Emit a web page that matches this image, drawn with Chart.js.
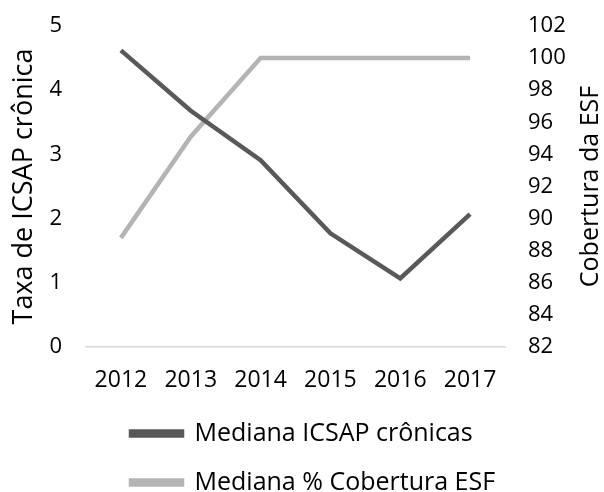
<!DOCTYPE html>
<html>
<head>
<meta charset="utf-8">
<script src="https://cdn.jsdelivr.net/npm/chart.js@4.4.0/dist/chart.umd.min.js"></script>
<style>
  html, body { margin: 0; padding: 0; background: #fff; }
  #wrap { width: 604px; height: 492px; }
</style>
</head>
<body>
<div id="wrap"><canvas id="grafico"></canvas></div>
<script>
// dados
const anos = ["2012", "2013", "2014", "2015", "2016", "2017"];
const icsapCronicas = [4.62, 3.68, 2.91, 1.77, 1.07, 2.07];
const coberturaEsf = [88.8, 95.1, 100, 100, 100, 100];

const fonte = "'Open Sans', sans-serif";
const corTexto = "#000";

// título do eixo direito lido de baixo para cima (como no original)
const tituloDireito = {
    id: "tituloDireito",
    afterDraw(chart) {
        const { ctx, chartArea, scales } = chart;
        ctx.save();
        ctx.translate(scales.y1.right - 13, (chartArea.top + chartArea.bottom) / 2);
        ctx.rotate(-Math.PI / 2);
        ctx.font = "25px " + fonte;
        ctx.fillStyle = corTexto;
        ctx.textAlign = "center";
        ctx.textBaseline = "middle";
        ctx.fillText("Cobertura da ESF", 0, 0);
        ctx.restore();
    }
};

// legenda alinhada à esquerda, começando perto de x = 132
const posLegenda = {
    id: "posLegenda",
    afterLayout(chart) {
        chart.legend.left = 107;
    }
};

// tira o espaço extra que o Chart.js reserva acima do eixo y
const semFolgaY = (s) => {
    s.paddingTop = 0;
    s.paddingBottom = 0;
};

new Chart(document.getElementById("grafico"), {
    type: "line",
    data: {
        labels: anos,
        datasets: [{
            label: "Mediana ICSAP crônicas",
            data: icsapCronicas,
            yAxisID: "y",
            borderColor: "#595959",
            backgroundColor: "#595959",
            borderWidth: 4.5,
            pointRadius: 0,
            tension: 0
        }, {
            label: "Mediana % Cobertura ESF",
            data: coberturaEsf,
            yAxisID: "y1",
            borderColor: "#b4b4b4",
            backgroundColor: "#b4b4b4",
            borderWidth: 4.5,
            pointRadius: 0,
            tension: 0
        }]
    },
    plugins: [tituloDireito, posLegenda],
    options: {
        responsive: true,
        maintainAspectRatio: false,
        animation: false,
        layout: { padding: { top: 26, bottom: -13, left: 0, right: 0 } },
        plugins: {
            tooltip: { enabled: false },
            legend: {
                position: "bottom",
                align: "start",
                labels: {
                    boxWidth: 51,
                    boxHeight: 4,
                    padding: 24,
                    color: corTexto,
                    font: { family: fonte, size: 25 }
                }
            }
        },
        scales: {
            x: {
                offset: true,
                grid: { display: false, drawTicks: false },
                border: { display: true, color: "#d9d9d9", width: 1.5 },
                ticks: { padding: 20, color: corTexto, font: { family: fonte, size: 23 } },
                afterFit: (s) => { s.height = 50; }
            },
            y: {
                position: "left",
                min: 0,
                max: 5,
                grid: { display: false, drawTicks: false },
                border: { display: false },
                ticks: { stepSize: 1, padding: 24, color: corTexto, font: { family: fonte, size: 22 } },
                title: {
                    display: true,
                    text: "Taxa de ICSAP crônica",
                    color: corTexto,
                    font: { family: fonte, size: 27 },
                    padding: { top: 8, bottom: 0 }
                },
                afterFit: (s) => { s.width = 86; semFolgaY(s); }
            },
            y1: {
                position: "right",
                min: 82,
                max: 102,
                grid: { display: false, drawTicks: false },
                border: { display: false },
                ticks: { stepSize: 2, padding: 23, color: corTexto, font: { family: fonte, size: 22 } },
                afterFit: (s) => { s.width = 99; semFolgaY(s); }
            }
        }
    }
});
</script>
</body>
</html>
